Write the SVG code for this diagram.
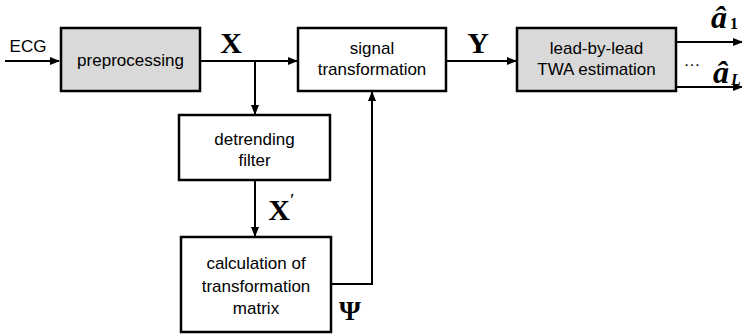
<svg xmlns="http://www.w3.org/2000/svg" width="742" height="336" viewBox="0 0 742 336">
<defs>
<marker id="ah" markerWidth="10" markerHeight="8" refX="9" refY="4" orient="auto" markerUnits="userSpaceOnUse">
<path d="M0,0 L10,4 L0,8 Z" fill="#000"/>
</marker>
<style>
.box{fill:#fff;stroke:#000;stroke-width:2.5}
.gray{fill:#d9d9d9}
.t{font-family:"Liberation Sans",Arial,sans-serif;font-size:17px;fill:#000;text-anchor:middle}
.m{font-family:"Liberation Serif","Times New Roman",serif;font-weight:bold;fill:#000}
.c{fill:none;stroke:#000;stroke-width:2}
</style>
</defs>
<rect width="742" height="336" fill="#fff"/>
<g id="connectors">
<line class="c" x1="5" y1="61" x2="59" y2="61" marker-end="url(#ah)"/>
<line class="c" x1="200" y1="61" x2="297" y2="61" marker-end="url(#ah)"/>
<line class="c" x1="255" y1="61" x2="255" y2="114" marker-end="url(#ah)"/>
<line class="c" x1="255" y1="180" x2="255" y2="236" marker-end="url(#ah)"/>
<polyline class="c" points="331,284 372,284 372,92" marker-end="url(#ah)"/>
<line class="c" x1="446" y1="61" x2="516" y2="61" marker-end="url(#ah)"/>
<line class="c" x1="676" y1="42" x2="742" y2="42" marker-end="url(#ah)"/>
<line class="c" x1="676" y1="87" x2="742" y2="87" marker-end="url(#ah)"/>
<text class="t" x="28" y="52">ECG</text>
<text class="m" x="231" y="53" font-size="30" text-anchor="middle">X</text>
<text class="m" x="478" y="53" font-size="30" text-anchor="middle">Y</text>
<text class="m" x="279" y="220" font-size="30" text-anchor="middle">X</text>
<text class="m" x="290" y="205" font-size="16" font-weight="normal">′</text>
<text class="m" x="350" y="320" font-size="28" text-anchor="middle">Ψ</text>
<text class="m" x="711" y="28" font-size="32" font-style="italic">â</text>
<text class="m" x="730" y="29" font-size="16" font-weight="normal">1</text>
<text class="m" x="713" y="83" font-size="32" font-style="italic">â</text>
<text class="m" x="731" y="85" font-size="16" font-style="italic" font-weight="normal">L</text>
<text class="t" x="692" y="66">…</text>
</g>
<g id="preprocessing">
<rect class="box gray" x="61" y="28" width="139" height="63"/>
<text class="t" x="130.5" y="66">preprocessing</text>
</g>
<g id="signal-transformation">
<rect class="box" x="298" y="28" width="148" height="63"/>
<text class="t" x="372" y="54">signal</text>
<text class="t" x="372" y="75">transformation</text>
</g>
<g id="twa-estimation">
<rect class="box gray" x="517" y="28" width="159" height="63"/>
<text class="t" x="596.5" y="54">lead-by-lead</text>
<text class="t" x="596.5" y="75">TWA estimation</text>
</g>
<g id="detrending-filter">
<rect class="box" x="179" y="115" width="151" height="65"/>
<text class="t" x="254.5" y="145">detrending</text>
<text class="t" x="254.5" y="166">filter</text>
</g>
<g id="transformation-matrix">
<rect class="box" x="181" y="237" width="150" height="95"/>
<text class="t" x="256" y="269">calculation of</text>
<text class="t" x="256" y="292">transformation</text>
<text class="t" x="256" y="314">matrix</text>
</g>
</svg>
